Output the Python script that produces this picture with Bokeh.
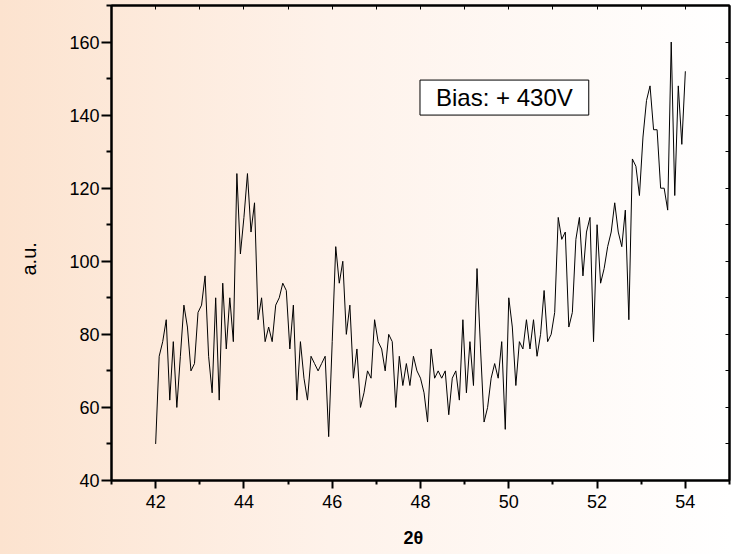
from bokeh.plotting import figure
from bokeh.models import Range1d, FixedTicker, LinearAxis, Label, Title
from bokeh.embed import file_html
from bokeh.resources import INLINE

# ---- data ----
two_theta_start = 42.0
two_theta_step = 0.08
counts = [
    50, 74, 78, 84, 62, 78, 60, 74, 88, 82,
    70, 72, 86, 88, 96, 74, 64, 90, 62, 94,
    76, 90, 78, 124, 102, 112, 124, 108, 116, 84,
    90, 78, 82, 78, 88, 90, 94, 92, 76, 88,
    62, 78, 68, 62, 74, 72, 70, 72, 74, 52,
    78, 104, 94, 100, 80, 88, 68, 76, 60, 64,
    70, 68, 84, 78, 76, 70, 80, 78, 60, 74,
    66, 72, 66, 74, 70, 68, 64, 56, 76, 68,
    70, 68, 70, 58, 68, 70, 62, 84, 64, 78,
    66, 98, 76, 56, 60, 68, 72, 68, 78, 54,
    90, 82, 66, 78, 76, 84, 76, 84, 74, 80,
    92, 78, 80, 86, 112, 106, 108, 82, 86, 106,
    112, 96, 108, 112, 78, 110, 94, 98, 104, 108,
    116, 108, 104, 114, 84, 128, 126, 118, 134, 144,
    148, 136, 136, 120, 120, 114, 160, 118, 148, 132,
    152,
]
two_theta = [round(two_theta_start + two_theta_step * i, 2) for i in range(len(counts))]

x_major_ticks = [42, 44, 46, 48, 50, 52, 54]
x_minor_ticks = [41, 43, 45, 47, 49, 51, 53, 55]
y_major_ticks = [40, 60, 80, 100, 120, 140, 160]
y_minor_ticks = [50, 70, 90, 110, 130, 150, 170]

annotation_text = "Bias: + 430V"
x_title = "2\u03b8"
y_title = "a.u."

FONT = "Liberation Sans"

p = figure(
    width=731, height=554,
    x_range=Range1d(41, 55), y_range=Range1d(40, 170),
    output_backend="svg", toolbar_location=None,
    min_border_left=111, min_border_right=2,
    min_border_top=5, min_border_bottom=74,
)
p.background_fill_color = None
p.border_fill_color = None
p.styles = {"background": "linear-gradient(to right, #FCE3CF 0%, #FEF2EA 45%, #FFFFFF 100%)"}
p.grid.visible = False
p.outline_line_color = "black"
p.outline_line_width = 2

def style_main(ax, tick_out, minor_out):
    ax.axis_line_width = 2
    ax.axis_line_color = "black"
    ax.major_tick_line_width = 2
    ax.minor_tick_line_width = 2
    ax.major_tick_out = tick_out
    ax.major_tick_in = 0
    ax.minor_tick_out = minor_out
    ax.minor_tick_in = 0
    ax.major_label_text_font = FONT
    ax.major_label_text_font_size = "18px"
    ax.major_label_text_color = "black"

xb = p.xaxis[0]
style_main(xb, 8, 4)
xb.ticker = FixedTicker(ticks=x_major_ticks, minor_ticks=x_minor_ticks)
xb.major_label_standoff = 6

yl = p.yaxis[0]
style_main(yl, 10, 5)
yl.ticker = FixedTicker(ticks=y_major_ticks, minor_ticks=y_minor_ticks)
yl.major_label_standoff = 2

def spacer(side, ticks, length):
    ax = LinearAxis(ticker=FixedTicker(ticks=ticks, minor_ticks=[]))
    ax.axis_line_color = None
    ax.major_tick_line_color = None
    ax.minor_tick_line_color = None
    ax.major_tick_out = length
    ax.major_tick_in = 0
    ax.minor_tick_out = 0
    ax.minor_tick_in = 0
    ax.major_label_text_font_size = "1px"
    ax.major_label_text_color = None
    ax.major_label_standoff = 0
    p.add_layout(ax, side)

spacer("left", [100], 25)
p.add_layout(Title(
    text=y_title, align="left", offset=205, standoff=4,
    text_font=FONT, text_font_size="20px", text_font_style="normal",
    text_color="black",
), "left")

spacer("below", [48], 11)
p.add_layout(Title(
    text=x_title, align="left", offset=292, standoff=8,
    text_font=FONT, text_font_size="18px", text_font_style="bold",
    text_color="black",
), "below")

for side, maj, mino in (("above", x_major_ticks, x_minor_ticks), ("right", y_major_ticks, y_minor_ticks)):
    ax = LinearAxis(ticker=FixedTicker(ticks=maj, minor_ticks=mino))
    ax.axis_line_width = 2
    ax.major_tick_line_width = 1
    ax.minor_tick_line_width = 1
    ax.major_tick_out = 0
    ax.major_tick_in = 4
    ax.minor_tick_out = 0
    ax.minor_tick_in = 4
    ax.major_label_text_font_size = "1px"
    ax.major_label_text_color = None
    ax.major_label_standoff = 0
    p.add_layout(ax, side)

p.line(two_theta, counts, line_color="black", line_width=1)

p.add_layout(Label(
    x=49.9, y=144.8, text=annotation_text,
    text_font=FONT, text_font_size="24px", text_color="black",
    text_align="center", text_baseline="middle",
    border_line_color="black", border_line_width=1,
    background_fill_color="white",
    padding=dict(left=16, right=16, top=4, bottom=4),
))

open("out.html", "w").write(file_html(p, INLINE))
